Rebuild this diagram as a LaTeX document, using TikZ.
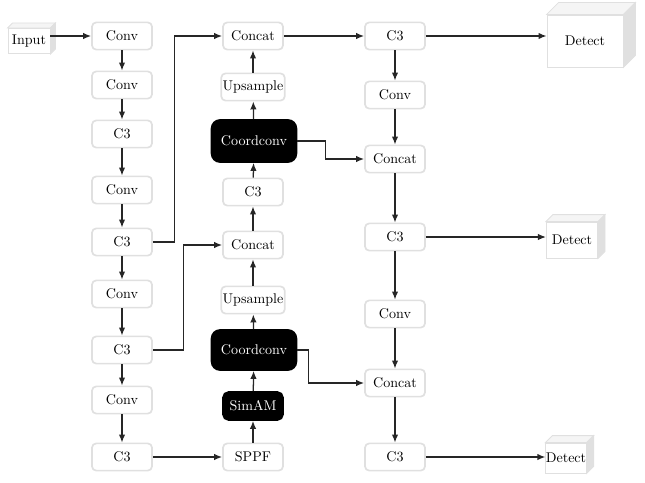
\documentclass[tikz,border=0pt]{standalone}
\usepackage{amsmath}
\usepackage{amssymb}
\usetikzlibrary{arrows.meta}

\tikzset{
  blk/.style={draw=black!12, line width=1.2pt, fill=white, rounded corners=3pt,
    minimum width=1.5cm, minimum height=0.68cm, inner xsep=1pt},
  dark/.style={blk, draw=black, fill=black, text=white, rounded corners=6pt},
  face/.style={draw=black!12, line width=0.6pt, fill=white, inner sep=0pt},
  link/.style={-{Latex[length=2mm,width=1.6mm]}, line width=0.9pt, black!85},
}

\begin{document}
\begin{tikzpicture}[x=0.025cm,y=-0.025cm]
  \useasboundingbox (0,0) rectangle (645,482);

  % backbone
  \node[blk] (conv1) at (122,36) {Conv};
  \node[blk] (conv2) at (122,85) {Conv};
  \node[blk] (c3a) at (122,134) {C3};
  \node[blk] (conv3) at (122,190) {Conv};
  \node[blk] (c3b) at (122,242) {C3};
  \node[blk] (conv4) at (122,294) {Conv};
  \node[blk] (c3c) at (122,350) {C3};
  \node[blk] (conv5) at (122,400) {Conv};
  \node[blk] (c3d) at (122,457) {C3};

  % neck, upward path
  \node[blk] (cat1) at (253,36) {Concat};
  \node[blk] (up1) at (253,87) {Upsample};
  \node[dark, minimum width=2.12cm, minimum height=1.05cm] (cc1) at (254,141) {Coordconv};
  \node[blk] (c3e) at (253,192) {C3};
  \node[blk] (cat2) at (253,245) {Concat};
  \node[blk] (up2) at (253,300) {Upsample};
  \node[dark, minimum width=2.12cm, minimum height=1.0cm] (cc2) at (254,350) {Coordconv};
  \node[dark, minimum height=0.7cm, rounded corners=4pt] (sim) at (253,406) {SimAM};
  \node[blk] (sppf) at (253,457) {SPPF};

  % neck, downward path
  \node[blk] (c3f) at (395,36) {C3};
  \node[blk] (conv6) at (395,95) {Conv};
  \node[blk] (cat3) at (395,159) {Concat};
  \node[blk] (c3g) at (395,237) {C3};
  \node[blk] (conv7) at (395,314) {Conv};
  \node[blk] (cat4) at (395,383) {Concat};
  \node[blk] (c3h) at (395,457) {C3};

  % boxes drawn as cubes
  \node[face, minimum width=1.05cm, minimum height=0.63cm] (inp) at (29,41) {Input};
  \node[face, minimum width=1.9cm, minimum height=1.3cm] (det1) at (585,41) {Detect};
  \node[face, minimum width=1.28cm, minimum height=0.9cm] (det2) at (572,240) {Detect};
  \node[face, minimum width=0.95cm, minimum height=0.75cm] (det3) at (566,458) {Detect};
  \foreach \n/\d in {inp/5,det1/12,det2/7,det3/7}{
    \filldraw[black!12, fill=black!4, line width=0.6pt] (\n.north west) -- ++(\d,-\d)
      -- ([shift={(\d,-\d)}]\n.north east) -- (\n.north east) -- cycle;
    \filldraw[black!12, fill=black!12, line width=0.6pt] (\n.north east) -- ++(\d,-\d)
      -- ([shift={(\d,-\d)}]\n.south east) -- (\n.south east) -- cycle;
  }

  % connections
  \draw[link] (inp.east |- conv1.west) -- (conv1.west);
  \foreach \a/\b in {conv1/conv2,conv2/c3a,c3a/conv3,conv3/c3b,c3b/conv4,conv4/c3c,c3c/conv5,conv5/c3d}
    \draw[link] (\a) -- (\b);
  \draw[link] (c3d) -- (sppf);
  \foreach \a/\b in {sppf/sim,sim/cc2,cc2/up2,up2/cat2,cat2/c3e,c3e/cc1,cc1/up1,up1/cat1}
    \draw[link] (\a) -- (\b);
  \draw[link] (c3b.east) -- ++(22,0) |- (cat1.west);
  \draw[link] (c3c.east) -- ++(31,0) |- (cat2.west);
  \draw[link] (cat1) -- (c3f);
  \foreach \a/\b in {c3f/conv6,conv6/cat3,cat3/c3g,c3g/conv7,conv7/cat4,cat4/c3h}
    \draw[link] (\a) -- (\b);
  \draw[link] (cc1.east) -- ++(28,0) |- (cat3.west);
  \draw[link] (cc2.east) -- ++(11,0) |- (cat4.west);
  \draw[link] (c3f.east) -- (c3f.east -| det1.west);
  \draw[link] (c3g.east) -- (c3g.east -| det2.west);
  \draw[link] (c3h.east) -- (c3h.east -| det3.west);
\end{tikzpicture}
\end{document}
